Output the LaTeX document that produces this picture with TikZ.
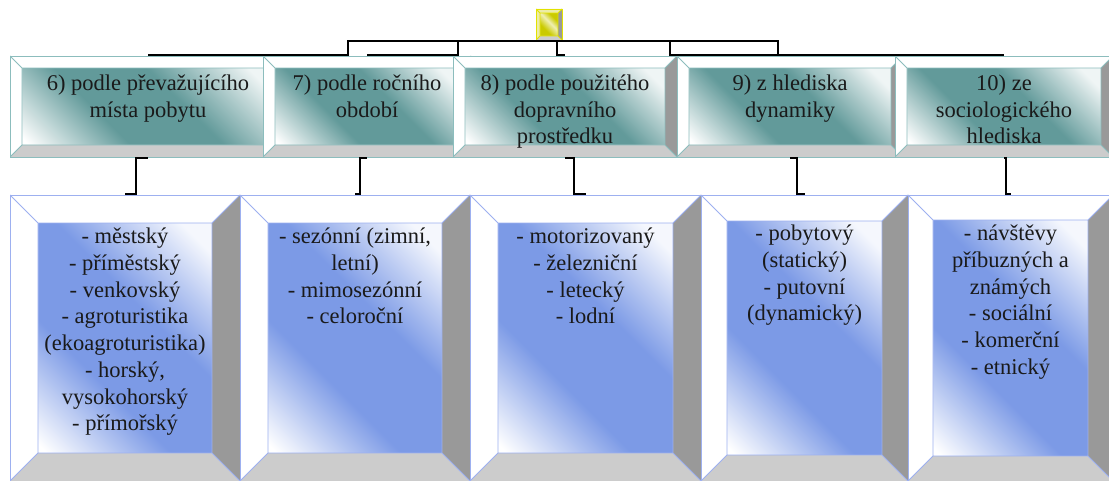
\documentclass[tikz,border=0pt]{standalone}
\usepackage{fontspec}
\setmainfont{Liberation Serif}
\usepackage{tikz}
\usetikzlibrary{positioning,calc}
\definecolor{kteal}{HTML}{629A9A}
\definecolor{kblue}{HTML}{7C9AE6}
\definecolor{kyel}{HTML}{CACA00}
\definecolor{kedge}{HTML}{8CBDBD}
\definecolor{kbedge}{HTML}{9DB0F0}
\definecolor{kyedge}{HTML}{E2E200}
\definecolor{kside}{HTML}{999999}
\definecolor{kfoot}{HTML}{CCCCCC}
\definecolor{ktext}{HTML}{1A1A1A}
\pgfdeclarehorizontalshading{tealpanel}{100bp}{color(0bp)=(white); color(16bp)=(white); color(38bp)=(kteal); color(58bp)=(kteal); color(80bp)=(white!90!kteal); color(100bp)=(white!90!kteal)}
\pgfdeclarehorizontalshading{bluepanel}{100bp}{color(0bp)=(white); color(16bp)=(white); color(38bp)=(kblue); color(58bp)=(kblue); color(80bp)=(white!92!kblue); color(100bp)=(white!92!kblue)}
\pgfdeclarehorizontalshading{yelpanel}{100bp}{color(0bp)=(kyel); color(35bp)=(kyel); color(55bp)=(white!70!kyel); color(70bp)=(kyel); color(100bp)=(kyel)}

\begin{document}
\begin{tikzpicture}[x=1pt,y=1pt,
  bv/.store in=\bv, bv=12,
  panel/.store in=\panel, panel=tealpanel,
  edgecol/.store in=\edgecol, edgecol=kedge,
  facecol/.store in=\facecol, facecol=white,
  bevel/.style={draw=\edgecol,line width=0.8pt,inner sep=0pt,outer sep=1pt,
    path picture={
      \path (path picture bounding box.south west) coordinate (o1)
            (path picture bounding box.south east) coordinate (o2)
            (path picture bounding box.north east) coordinate (o3)
            (path picture bounding box.north west) coordinate (o4);
      \path ($(o1)+(\bv,\bv)$) coordinate (i1) ($(o2)+(-\bv,\bv)$) coordinate (i2)
            ($(o3)+(-\bv,-\bv)$) coordinate (i3) ($(o4)+(\bv,-\bv)$) coordinate (i4);
      \shade[shading=\panel,shading angle=45] (i1) rectangle (i3);
      \fill[\facecol] (o4)--(o3)--(i3)--(i4)--cycle (o1)--(o4)--(i4)--(i1)--cycle;
      \fill[kside] (o2)--(o3)--(i3)--(i2)--cycle;
      \fill[kfoot] (o1)--(o2)--(i2)--(i1)--cycle;
      \draw[\edgecol,line width=0.8pt] (i1) rectangle (i3) (o1)--(i1) (o2)--(i2) (o3)--(i3) (o4)--(i4);
    }},
  hbox/.style={bevel,bv=12,panel=tealpanel,edgecol=kedge,minimum height=101},
  lbox/.style={bevel,bv=28,panel=bluepanel,edgecol=kbedge,minimum height=286},
  hub/.style={bevel,bv=4,panel=yelpanel,edgecol=kyedge,facecol=kyel!35,
              minimum width=26,minimum height=31},
  txt/.style={align=center,inner sep=0pt,text=ktext,
              font=\fontsize{22.5}{26.7}\selectfont},
  ln/.style={draw=black,line width=1.2pt}]

  \useasboundingbox (0,0) rectangle (1109,480);
  \fill[white] (0,0) rectangle (1109,480);
  \clip (0,0) rectangle (1109,480);

  \node[hub] (root) at (549,455.5) {};

  \node[hbox,minimum width=276] (b6) at (148,373.5) {};
  \node[hbox,minimum width=208] (b7) at (367,373.5) {};
  \node[hbox,minimum width=224] (b8) at (565,373.5) {};
  \node[hbox,minimum width=226] (b9) at (790,373.5) {};
  \node[hbox,minimum width=218] (b10) at (1004,373.5) {};

  \node[lbox,minimum width=230] (c6) at (125,142) {};
  \node[lbox,minimum width=230] (c7) at (355,142) {};
  \node[lbox,minimum width=231] (c8) at (585.5,142) {};
  \node[lbox,bv=26,minimum width=207] (c9) at (804.5,142) {};
  \node[lbox,bv=25,minimum width=205] (c10) at (1010.5,142) {};

  \node[txt,below=19.5pt of b6.north] (t6) {6) podle převažujícího\\místa pobytu};
  \node[txt,below=19.5pt of b7.north] (t7) {7) podle ročního\\období};
  \node[txt,below=19.5pt of b8.north] (t8) {8) podle použitého\\dopravního\\prostředku};
  \node[txt,below=19.5pt of b9.north] (t9) {9) z hlediska\\dynamiky};
  \node[txt,below=19.5pt of b10.north] (t10) {10) ze\\sociologického\\hlediska};

  \node[txt,below=34pt of c6.north] (u6) {- městský\\- příměstský\\- venkovský\\- agroturistika\\(ekoagroturistika)\\- horský,\\vysokohorský\\- přímořský};
  \node[txt,below=34pt of c7.north] (u7) {- sezónní (zimní,\\letní)\\- mimosezónní\\- celoroční};
  \node[txt,below=34pt of c8.north] (u8) {- motorizovaný\\- železniční\\- letecký\\- lodní};
  \node[txt,below=31pt of c9.north] (u9) {- pobytový\\(statický)\\- putovní\\(dynamický)};
  \node[txt,below=31pt of c10.north] (u10) {- návštěvy\\příbuzných a\\známých\\- sociální\\- komerční\\- etnický};

  \draw[ln] (root.south) -- ++(-201,0) |- (b6.north);
  \draw[ln] (root.south) -- ++(-91,0) |- (b7.north);
  \draw[ln] (root.south) -- ++(8,0) |- (b8.north);
  \draw[ln] (root.south) -- ++(229,0) |- (b9.north);
  \draw[ln] (root.south) -- ++(121,0) |- (b10.north);

  \draw[ln] (b6.south) -- ++(-12,0) |- (c6.north);
  \draw[ln] (b7.south) -- ++(-7,0) |- (c7.north);
  \draw[ln] (b8.south) -- ++(9,0) |- (c8.north);
  \draw[ln] (b9.south) -- ++(7,0) |- (c9.north);
  \draw[ln] (b10.south) -- ++(2,0) |- (c10.north);
\end{tikzpicture}
\end{document}
